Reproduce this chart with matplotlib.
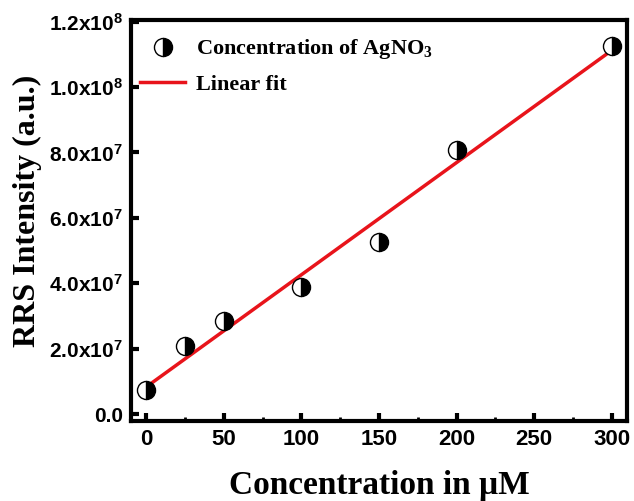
import numpy as np
import matplotlib
matplotlib.use('Agg')
import matplotlib.pyplot as plt
from matplotlib.ticker import FuncFormatter, MultipleLocator

plt.rcParams['mathtext.fontset'] = 'custom'
plt.rcParams['mathtext.bf'] = 'Liberation Sans:bold'
plt.rcParams['mathtext.rm'] = 'Liberation Sans:bold'
plt.rcParams['mathtext.sf'] = 'Liberation Serif:bold'

# dados
conc = [0, 25, 50, 100, 150, 200, 300]
rrs = [7.4e6, 2.07e7, 2.84e7, 3.88e7, 5.25e7, 8.08e7, 1.127e8]

# ajuste linear
coef = np.polyfit(conc, rrs, 1)
x_fit = np.array([0, 300])
y_fit = np.polyval(coef, x_fit)

fig = plt.figure(figsize=(6.34, 5.01), dpi=100)
ax = fig.add_axes([0.2066, 0.1597, 0.7824, 0.8003])

ax.plot(x_fit, y_fit, color='#e8141b', linewidth=2.5, label='Linear fit', zorder=2)
ax.plot(conc, rrs, linestyle='none', marker='o', markersize=13, fillstyle='right',
        markerfacecolor='black', markerfacecoloralt='white', markeredgecolor='black',
        markeredgewidth=1, label='Concentration of AgNO$_\\mathsf{3}$', zorder=3)

ax.set_xlim(-10, 310)
ax.set_ylim(-2.1e6, 1.205e8)
ax.xaxis.set_major_locator(MultipleLocator(50))
ax.xaxis.set_minor_locator(MultipleLocator(25))
ax.yaxis.set_major_locator(MultipleLocator(2e7))


def fmt(v, pos):
    if v == 0:
        return '0.0'
    e = int(np.floor(np.log10(abs(v))))
    m = v / 10 ** e
    return r'$\mathbf{%.1fx10^{%d}}$' % (m, e)


ax.yaxis.set_major_formatter(FuncFormatter(fmt))

for s in ax.spines.values():
    s.set_linewidth(3)
ax.tick_params(which='major', direction='in', length=6, width=3, pad=6)
ax.tick_params(which='minor', direction='in', length=3, width=2)
ax.tick_params(axis='x', labelsize=16)
ax.tick_params(axis='y', labelsize=15)
for lab in ax.get_xticklabels() + ax.get_yticklabels():
    lab.set_fontfamily('Liberation Sans')
    lab.set_fontweight('bold')

ax.set_xlabel('Concentration in μM', fontsize=24, fontweight='bold',
              fontfamily='Liberation Serif', va='top')
ax.xaxis.set_label_coords(0.5, -0.122)
ax.set_ylabel('RRS Intensity (a.u.)', fontsize=23, fontweight='bold',
              fontfamily='Liberation Serif')
ax.yaxis.set_label_coords(-0.18, 0.525)

h, l = ax.get_legend_handles_labels()
ax.legend(h[::-1], l[::-1], loc='upper left', frameon=False,
          prop={'family': 'Liberation Serif', 'weight': 'bold', 'size': 16},
          handlelength=2.0, handletextpad=0.5, labelspacing=0.6,
          borderaxespad=0.2, bbox_to_anchor=(-0.008, 0.99))

plt.savefig('out.png', dpi=100)
